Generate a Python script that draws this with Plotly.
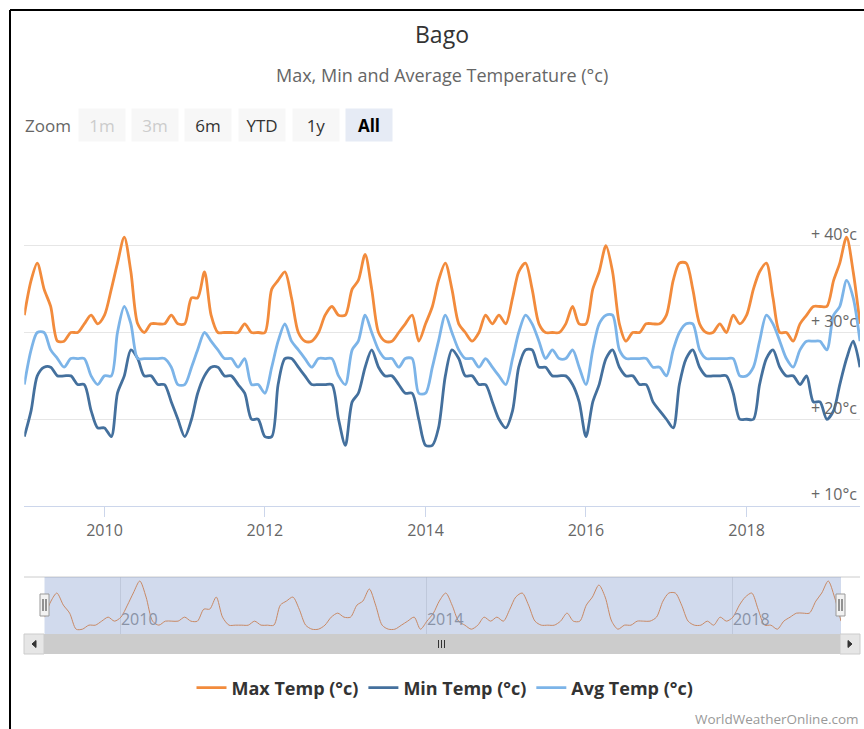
import pandas as pd
import plotly.graph_objects as go

# ---------------- data (monthly, Jan 2009 .. Jun 2019) ----------------
months = pd.date_range("2009-01-01", periods=126, freq="MS")

max_temp = [32, 36, 38, 35, 33, 29, 29, 30, 30, 31, 32, 31,
            32, 35, 38, 41, 37, 31, 30, 31, 31, 31, 32, 31,
            31, 34, 34, 37, 32, 30, 30, 30, 30, 31, 30, 30,
            30, 35, 36, 37, 34, 30, 29, 29, 30, 32, 33, 32,
            32, 35, 36, 39, 35, 30, 29, 29, 30, 31, 32, 29,
            31, 33, 36, 38, 35, 31, 30, 29, 30, 32, 31, 32,
            31, 34, 37, 38, 35, 31, 30, 30, 30, 31, 33, 31,
            31, 35, 37, 40, 37, 31, 29, 30, 30, 31, 31, 31,
            32, 36, 38, 38, 35, 31, 30, 30, 31, 30, 32, 31,
            32, 35, 37, 38, 34, 30, 30, 29, 31, 32, 33, 33,
            33, 36, 38, 41, 37, 31]

min_temp = [18, 21, 25, 26, 26, 25, 25, 25, 24, 24, 21, 19,
            19, 18, 23, 25, 28, 27, 25, 25, 24, 24, 22, 20,
            18, 20, 23, 25, 26, 26, 25, 25, 24, 23, 20, 20,
            18, 18, 24, 27, 27, 26, 25, 24, 24, 24, 24, 20,
            17, 22, 23, 26, 28, 26, 25, 25, 24, 23, 23, 20,
            17, 17, 19, 25, 28, 27, 25, 25, 24, 24, 22, 20,
            19, 21, 26, 28, 28, 26, 26, 25, 25, 25, 24, 22,
            18, 22, 24, 27, 28, 26, 25, 25, 24, 24, 22, 21,
            20, 19, 24, 27, 28, 26, 25, 25, 25, 25, 23, 20,
            20, 20, 24, 27, 28, 26, 25, 25, 24, 25, 22, 22,
            20, 21, 24, 27, 29, 26]

avg_temp = [24, 28, 30, 30, 28, 27, 26, 27, 27, 27, 25, 24,
            25, 25, 30, 33, 31, 27, 27, 27, 27, 27, 26, 24,
            24, 26, 28, 30, 29, 28, 27, 27, 26, 27, 24, 24,
            23, 26, 29, 31, 29, 28, 27, 26, 27, 27, 27, 25,
            24, 28, 29, 32, 30, 28, 27, 27, 26, 27, 27, 23,
            23, 26, 29, 32, 30, 28, 27, 27, 26, 27, 26, 25,
            24, 27, 30, 32, 31, 29, 27, 28, 27, 27, 28, 26,
            24, 28, 31, 32, 32, 28, 27, 27, 27, 27, 26, 26,
            25, 28, 30, 31, 31, 28, 27, 27, 27, 27, 27, 25,
            25, 26, 29, 32, 31, 29, 27, 26, 28, 29, 29, 29,
            28, 32, 33, 36, 34, 29]

series_names = ["Max Temp (°c)", "Min Temp (°c)", "Avg Temp (°c)"]
series_colors = ["#F28B3C", "#44709D", "#7CB4E8"]

main_ticks = ["2010-01-01", "2012-01-01", "2014-01-01", "2016-01-01", "2018-01-01"]
main_tick_text = ["2010", "2012", "2014", "2016", "2018"]
nav_ticks = ["2010-01-01", "2014-01-01", "2018-01-01"]
nav_tick_text = ["2010", "2014", "2018"]
y_ticks = [10, 20, 30, 40, 50]
y_tick_text = ["+ 10°c", "+ 20°c", "+ 30°c", "+ 40°c", ""]
zoom_buttons = ["1m", "3m", "6m", "YTD", "1y", "All"]

# ---------------- geometry helpers ----------------
W, H = 864, 729
FONT = "Open Sans"


def fx(px):
    return px / W


def fy(py):
    return 1 - py / H


fig = go.Figure()

for name, vals, col in zip(series_names, [max_temp, min_temp, avg_temp], series_colors):
    fig.add_trace(go.Scatter(
        x=months, y=vals, name=name, mode="lines",
        line=dict(color=col, width=2.8, shape="spline", smoothing=0.8),
        xaxis="x", yaxis="y", hoverinfo="skip"))

# navigator series
fig.add_trace(go.Scatter(
    x=months, y=max_temp, mode="lines", showlegend=False,
    line=dict(color=series_colors[0], width=1, shape="spline", smoothing=0.8),
    xaxis="x2", yaxis="y2", hoverinfo="skip"))

x_range = [months[0], months[-1]]

shapes = []
# outer frame (top and left black border)
shapes.append(dict(type="line", xref="paper", yref="paper", x0=fx(10), x1=1.0,
                   y0=fy(10), y1=fy(10), line=dict(color="black", width=2)))
shapes.append(dict(type="line", xref="paper", yref="paper", x0=fx(10), x1=fx(10),
                   y0=fy(10), y1=0, line=dict(color="black", width=2)))
# navigator outline
shapes.append(dict(type="line", xref="paper", yref="paper", x0=fx(24), x1=fx(860),
                   y0=fy(577), y1=fy(577), line=dict(color="#cccccc", width=1)))
# navigator mask
shapes.append(dict(type="rect", xref="paper", yref="paper", x0=fx(44.5), x1=fx(841),
                   y0=fy(634), y1=fy(577), fillcolor="rgba(102,133,194,0.3)",
                   line=dict(width=0), layer="above"))
# scrollbar
shapes.append(dict(type="rect", xref="paper", yref="paper", x0=fx(24), x1=fx(860),
                   y0=fy(654), y1=fy(634), fillcolor="#f2f2f2", line=dict(width=0)))
shapes.append(dict(type="rect", xref="paper", yref="paper", x0=fx(44), x1=fx(840),
                   y0=fy(654), y1=fy(634), fillcolor="#cccccc", line=dict(width=0)))
for bx in (24, 840):
    shapes.append(dict(type="rect", xref="paper", yref="paper", x0=fx(bx), x1=fx(bx + 20),
                       y0=fy(654), y1=fy(634), fillcolor="#e6e6e6",
                       line=dict(color="#cccccc", width=1)))
# arrows
shapes.append(dict(type="path", xref="paper", yref="paper",
                   path=f"M {fx(36)} {fy(640.5)} L {fx(32)} {fy(644)} L {fx(36)} {fy(647.5)} Z",
                   fillcolor="#333333", line=dict(color="#333333", width=1)))
shapes.append(dict(type="path", xref="paper", yref="paper",
                   path=f"M {fx(848)} {fy(640.5)} L {fx(852)} {fy(644)} L {fx(848)} {fy(647.5)} Z",
                   fillcolor="#333333", line=dict(color="#333333", width=1)))
# grip
for gx in (438.5, 441.5, 444.5):
    shapes.append(dict(type="line", xref="paper", yref="paper", x0=fx(gx), x1=fx(gx),
                       y0=fy(640), y1=fy(648), line=dict(color="#333333", width=1)))
# handles
for hx in (44.5, 840.5):
    shapes.append(dict(type="rect", xref="paper", yref="paper", x0=fx(hx - 4.5), x1=fx(hx + 4.5),
                       y0=fy(616), y1=fy(594), fillcolor="#f2f2f2",
                       line=dict(color="#999999", width=1), layer="above"))
    for lx in (hx - 1.5, hx + 1.5):
        shapes.append(dict(type="line", xref="paper", yref="paper", x0=fx(lx), x1=fx(lx),
                           y0=fy(599), y1=fy(611), line=dict(color="#333333", width=1),
                           layer="above"))

annotations = []
annotations.append(dict(text="Max, Min and Average Temperature (°c)", x=fx(442), y=fy(75),
                        xref="paper", yref="paper", xanchor="center", yanchor="middle",
                        showarrow=False,
                        font=dict(family=FONT, size=18, color="#666666")))
annotations.append(dict(text="Zoom", x=fx(23), y=fy(125), xref="paper", yref="paper",
                        xanchor="left", yanchor="middle", showarrow=False,
                        font=dict(family=FONT, size=17, color="#666666")))
btn_left = [79, 132, 185, 239, 293, 346]
for lbl, bl in zip(zoom_buttons, btn_left):
    disabled = lbl in ("1m", "3m")
    selected = lbl == "All"
    annotations.append(dict(
        text=f"<b>{lbl}</b>" if selected else lbl,
        x=fx(bl + 23), y=fy(125), xref="paper", yref="paper", showarrow=False,
        xanchor="center", yanchor="middle",
        width=46, height=32, borderpad=0,
        bgcolor="#e6ebf5" if selected else "#f7f7f7",
        font=dict(family=FONT, size=17,
                  color="#cccccc" if disabled else ("#000000" if selected else "#333333"))))
annotations.append(dict(text="WorldWeatherOnline.com", x=fx(861), y=fy(719),
                        xref="paper", yref="paper", xanchor="right", yanchor="middle",
                        showarrow=False,
                        font=dict(family=FONT, size=13.5, color="#999999")))

fig.update_layout(
    width=W, height=H,
    margin=dict(l=0, r=0, t=0, b=0, autoexpand=False),
    paper_bgcolor="white", plot_bgcolor="white",
    title=dict(text="Bago", x=fx(442), xref="paper", y=fy(35), yref="container",
               xanchor="center", yanchor="middle",
               font=dict(family=FONT, size=23, color="#333333")),
    font=dict(family=FONT),
    xaxis=dict(domain=[fx(24.3), fx(860)], type="date", range=x_range,
               tickmode="array", tickvals=main_ticks, ticktext=main_tick_text,
               ticks="outside", ticklen=10, tickcolor="#ccd6eb",
               showline=True, linecolor="#ccd6eb", showgrid=False, zeroline=False,
               tickfont=dict(size=16, color="#666666"), anchor="y", fixedrange=True),
    yaxis=dict(domain=[fy(506), fy(159)], range=[10, 50],
               tickmode="array", tickvals=y_ticks, ticktext=y_tick_text,
               side="right", ticklabelposition="inside top", ticks="",
               gridcolor="#e6e6e6", gridwidth=1, zeroline=False, showline=False,
               tickfont=dict(size=16, color="#666666"), anchor="x", fixedrange=True),
    xaxis2=dict(domain=[fx(44.5), fx(841)], type="date", range=x_range,
                tickmode="array", tickvals=nav_ticks, ticktext=nav_tick_text,
                ticks="", showgrid=True, gridcolor="#e6e6e6", showline=False,
                zeroline=False, ticklabelposition="inside right",
                tickfont=dict(size=16, color="#999999"), anchor="y2", fixedrange=True),
    yaxis2=dict(domain=[fy(634), fy(577)], range=[27.8, 42.0], visible=False,
                anchor="x2", fixedrange=True),
    legend=dict(orientation="h", x=fx(445), xanchor="center", y=fy(688), yanchor="middle",
                itemwidth=30,
                font=dict(family=FONT, size=18, color="#333333", weight="bold"),
                bgcolor="rgba(0,0,0,0)"),
    shapes=shapes,
    annotations=annotations,
    hovermode=False,
)

fig.write_html("out.html",
               config={"displayModeBar": False},
               post_script="document.body.style.margin='0';document.body.style.padding='0';")
